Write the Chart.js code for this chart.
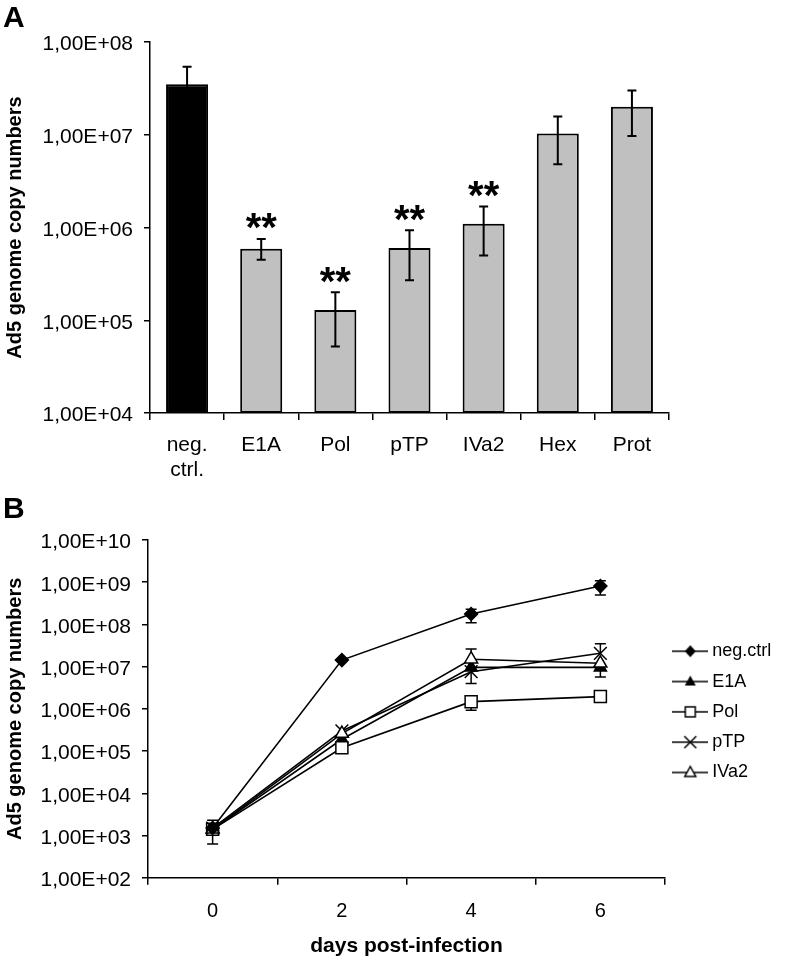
<!DOCTYPE html>
<html><head><meta charset="utf-8">
<script src="https://cdn.jsdelivr.net/npm/chart.js@4.4.1/dist/chart.umd.min.js"></script>
<style>
html,body{margin:0;padding:0;background:#fff;}
body{width:786px;height:962px;position:relative;overflow:hidden;}
canvas{position:absolute;left:0;}
#cA{top:0;}
#cB{top:480px;}
</style></head><body>
<canvas id="cA" width="786" height="490"></canvas>
<canvas id="cB" width="786" height="482"></canvas>
<script>
// ---------- Panel A data ----------
const categoriesA = [['neg.', 'ctrl.'], 'E1A', 'Pol', 'pTP', 'IVa2', 'Hex', 'Prot'];
const copiesA   = [3.5e7, 5.9e5, 1.29e5, 6.0e5, 1.1e6, 1.03e7, 2.0e7];
const errHighA  = [5.4e7, 7.5e5, 2.0e5, 9.35e5, 1.68e6, 1.57e7, 3.0e7];
const errLowA   = [1.6e7, 4.5e5, 5.2e4, 2.7e5, 5.0e5, 4.8e6, 9.7e6];
const signifA   = ['', '**', '**', '**', '**', '', ''];
const barColorsA = ['#000000', '#c0c0c0', '#c0c0c0', '#c0c0c0', '#c0c0c0', '#c0c0c0', '#c0c0c0'];
const yTickValuesA = [1e4, 1e5, 1e6, 1e7, 1e8];
const yTickLabelsA = ['1,00E+04', '1,00E+05', '1,00E+06', '1,00E+07', '1,00E+08'];

// ---------- Panel B data ----------
const daysB = ['0', '2', '4', '6'];
const seriesNamesB = ['neg.ctrl', 'E1A', 'Pol', 'pTP', 'IVa2'];
const negCtrlB = [1.5e3, 1.43e7, 1.76e8, 8.1e8];
const e1aB     = [1.4e3, 1.9e5, 9.6e6, 9.6e6];
const polB     = [1.4e3, 1.2e5, 1.48e6, 1.95e6];
const ptpB     = [1.5e3, 3.0e5, 7.6e6, 2.07e7];
const iva2B    = [1.4e3, 2.6e5, 1.5e7, 1.2e7];
const negCtrlErrHiB = [null, null, 2.3e8, 1.08e9];
const negCtrlErrLoB = [null, null, 1.1e8, 5.0e8];
const e1aErrHiB  = [null, null, null, null];
const e1aErrLoB  = [null, null, null, 5.7e6];
const polErrHiB  = [null, null, null, null];
const polErrLoB  = [null, null, 9.3e5, null];
const ptpErrHiB  = [null, null, null, 3.5e7];
const ptpErrLoB  = [null, null, 4.0e6, null];
const iva2ErrHiB = [2.3e3, null, 2.6e7, null];
const iva2ErrLoB = [6.3e2, null, null, null];
const yTickValuesB = [1e2, 1e3, 1e4, 1e5, 1e6, 1e7, 1e8, 1e9, 1e10];
const yTickLabelsB = ['1,00E+02', '1,00E+03', '1,00E+04', '1,00E+05', '1,00E+06', '1,00E+07', '1,00E+08', '1,00E+09', '1,00E+10'];

Chart.defaults.font.family = "'Liberation Sans', Arial, sans-serif";
Chart.defaults.color = '#000';

const AXIS = '#000';

// ---------- Panel A ----------
const errorBarsA = {
  id: 'errorBarsA',
  afterDatasetsDraw(chart) {
    const ctx = chart.ctx;
    const meta = chart.getDatasetMeta(0);
    const ys = chart.scales.y;
    ctx.save();
    ctx.strokeStyle = '#000';
    ctx.lineWidth = 2;
    meta.data.forEach((bar, i) => {
      const x = bar.x;
      const yh = ys.getPixelForValue(errHighA[i]);
      const yl = ys.getPixelForValue(errLowA[i]);
      ctx.beginPath();
      ctx.moveTo(x, yh); ctx.lineTo(x, yl);
      ctx.moveTo(x - 4.5, yh); ctx.lineTo(x + 4.5, yh);
      ctx.moveTo(x - 4.5, yl); ctx.lineTo(x + 4.5, yl);
      ctx.stroke();
      if (signifA[i]) {
        ctx.fillStyle = '#000';
        ctx.font = "bold 40px 'Liberation Sans', Arial, sans-serif";
        ctx.textAlign = 'center';
        ctx.textBaseline = 'alphabetic';
        ctx.fillText(signifA[i], x, yh - 21 + 0.585 * 40);
      }
    });
    ctx.restore();
  }
};

new Chart(document.getElementById('cA'), {
  type: 'bar',
  data: {
    labels: categoriesA,
    datasets: [{
      data: copiesA,
      backgroundColor: barColorsA,
      borderColor: '#000',
      borderWidth: 2,
      borderSkipped: false,
      barPercentage: 0.567,
      categoryPercentage: 1.0
    }]
  },
  options: {
    responsive: false,
    animation: false,
    devicePixelRatio: 1,
    layout: { padding: { left: 3, right: 117, top: 0, bottom: 0 } },
    plugins: {
      legend: { display: false },
      tooltip: { enabled: false },
      title: {
        display: true, text: 'A', align: 'start', color: '#000',
        font: { size: 30, weight: 'bold' },
        padding: { top: 0.6, bottom: 5.4 }
      }
    },
    scales: {
      x: {
        type: 'category',
        offset: true,
        grid: { display: true, drawOnChartArea: false, offset: true, drawTicks: true, tickLength: 7, color: AXIS, lineWidth: 1.5 },
        border: { display: true, color: AXIS, width: 1.5 },
        ticks: { font: { size: 21 }, color: '#000', padding: 12.8, maxRotation: 0, autoSkip: false },
        afterFit: (s) => { s.height = 77; }
      },
      y: {
        type: 'logarithmic',
        min: 1e4, max: 1e8,
        grid: { display: true, drawOnChartArea: false, drawTicks: true, tickLength: 6, color: AXIS, lineWidth: 1.5 },
        border: { display: true, color: AXIS, width: 1.5 },
        ticks: {
          font: { size: 21 }, color: '#000', padding: 11, labelOffset: 2.5,
          callback: (v) => { const k = yTickValuesA.indexOf(v); return k >= 0 ? yTickLabelsA[k] : ''; }
        },
        afterBuildTicks: (s) => { s.ticks = yTickValuesA.map(v => ({ value: v })); },
        title: {
          display: true, text: 'Ad5 genome copy numbers', color: '#000',
          font: { size: 20, weight: 'bold' }, padding: { top: 0, bottom: 0 }
        },
        afterFit: (s) => { s.width = 147; }
      }
    }
  },
  plugins: [errorBarsA]
});

// ---------- Panel B ----------
const valuesB = [negCtrlB, e1aB, polB, ptpB, iva2B];
const errHiB = [negCtrlErrHiB, e1aErrHiB, polErrHiB, ptpErrHiB, iva2ErrHiB];
const errLoB = [negCtrlErrLoB, e1aErrLoB, polErrLoB, ptpErrLoB, iva2ErrLoB];
const pointStylesB = ['rectRot', 'triangle', 'rect', 'crossRot', 'triangle'];
const pointRadiusB = [6.5, 7, 8.5, 9, 7.5];
const pointFillB = ['#000', '#000', '#fff', '#000', '#fff'];
const drawOrderB = [0, 4, 3, 2, 1];

function legendIcon(i) {
  const c = document.createElement('canvas');
  c.width = 36; c.height = 18;
  const g = c.getContext('2d');
  g.strokeStyle = '#000'; g.fillStyle = '#000'; g.lineWidth = 1.5;
  g.beginPath(); g.moveTo(0, 9); g.lineTo(36, 9); g.stroke();
  const cx = 18, cy = 9;
  g.beginPath();
  if (i === 0) {
    g.moveTo(cx, cy - 6); g.lineTo(cx + 5.5, cy); g.lineTo(cx, cy + 6); g.lineTo(cx - 5.5, cy); g.closePath(); g.fill();
  } else if (i === 1) {
    g.moveTo(cx, cy - 6); g.lineTo(cx + 5.5, cy + 4); g.lineTo(cx - 5.5, cy + 4); g.closePath(); g.fill();
  } else if (i === 2) {
    g.fillStyle = '#fff'; g.rect(cx - 5, cy - 5, 10, 10); g.fill(); g.stroke();
  } else if (i === 3) {
    g.moveTo(cx - 6, cy - 6); g.lineTo(cx + 6, cy + 6); g.moveTo(cx + 6, cy - 6); g.lineTo(cx - 6, cy + 6); g.stroke();
  } else {
    g.fillStyle = '#fff'; g.moveTo(cx, cy - 6); g.lineTo(cx + 5.5, cy + 4); g.lineTo(cx - 5.5, cy + 4); g.closePath(); g.fill(); g.stroke();
  }
  return c;
}
const legendIconsB = seriesNamesB.map((n, i) => legendIcon(i));

const errorBarsB = {
  id: 'errorBarsB',
  beforeDatasetsDraw(chart) {
    const ctx = chart.ctx;
    const ys = chart.scales.y;
    ctx.save();
    ctx.strokeStyle = '#000';
    ctx.lineWidth = 1.5;
    valuesB.forEach((vals, d) => {
      const meta = chart.getDatasetMeta(d);
      meta.data.forEach((pt, i) => {
        const x = pt.x, y = pt.y;
        const hi = errHiB[d][i], lo = errLoB[d][i];
        ctx.beginPath();
        if (hi != null) {
          const yh = ys.getPixelForValue(hi);
          ctx.moveTo(x, y); ctx.lineTo(x, yh);
          ctx.moveTo(x - 5.5, yh); ctx.lineTo(x + 5.5, yh);
        }
        if (lo != null) {
          const yl = ys.getPixelForValue(lo);
          ctx.moveTo(x, y); ctx.lineTo(x, yl);
          ctx.moveTo(x - 5.5, yl); ctx.lineTo(x + 5.5, yl);
        }
        ctx.stroke();
      });
    });
    ctx.restore();
  }
};

// keep the legend column at a fixed width so the plot ends at the same place
const fixedLegendWidth = {
  id: 'fixedLegendWidth',
  beforeLayout(chart) {
    const lg = chart.legend;
    if (lg && !lg._fixedW) {
      const orig = lg.fit.bind(lg);
      lg.fit = function () { orig(); this.width = 121; };
      lg._fixedW = true;
    }
  }
};

new Chart(document.getElementById('cB'), {
  type: 'line',
  data: {
    labels: daysB,
    datasets: valuesB.map((vals, d) => ({
      label: seriesNamesB[d],
      data: vals,
      order: drawOrderB[d],
      borderColor: '#000',
      borderWidth: 1.6,
      tension: 0,
      fill: false,
      pointStyle: pointStylesB[d],
      pointRadius: pointRadiusB[d],
      pointBackgroundColor: pointFillB[d],
      pointBorderColor: '#000',
      pointBorderWidth: 1.5
    }))
  },
  options: {
    responsive: false,
    animation: false,
    devicePixelRatio: 1,
    layout: { padding: { left: 3, right: 0, top: 0, bottom: 0 } },
    plugins: {
      tooltip: { enabled: false },
      title: {
        display: true, text: 'B', align: 'start', color: '#000',
        font: { size: 30, weight: 'bold' },
        padding: { top: 11.6, bottom: 12.4 }
      },
      legend: {
        display: true, position: 'right', fullSize: false, align: 'center',
        title: { display: true, text: '', font: { size: 5, lineHeight: 1.2 }, padding: 0 },
        labels: {
          font: { size: 18 }, color: '#000', padding: 12.3,
          usePointStyle: true, pointStyleWidth: 26,
          generateLabels: (chart) => seriesNamesB.map((n, i) => ({
            text: n, pointStyle: legendIconsB[i], datasetIndex: i,
            fillStyle: '#000', strokeStyle: '#000', lineWidth: 0, hidden: false, fontColor: '#000'
          }))
        }
      }
    },
    scales: {
      x: {
        type: 'category',
        offset: true,
        grid: { display: true, drawOnChartArea: false, offset: true, drawTicks: true, tickLength: 7, color: AXIS, lineWidth: 1.5 },
        border: { display: true, color: AXIS, width: 1.5 },
        ticks: { font: { size: 20 }, color: '#000', padding: 14.4, maxRotation: 0 },
        title: {
          display: true, text: 'days post-infection', color: '#000',
          font: { size: 21, weight: 'bold' }, padding: { top: 0, bottom: 2.7 }
        },
        afterFit: (s) => { s.height = 84.3; }
      },
      y: {
        type: 'logarithmic',
        min: 1e2, max: 1e10,
        grid: { display: true, drawOnChartArea: false, drawTicks: true, tickLength: 6, color: AXIS, lineWidth: 1.5 },
        border: { display: true, color: AXIS, width: 1.5 },
        ticks: {
          font: { size: 21 }, color: '#000', padding: 11, labelOffset: 2.5,
          callback: (v) => { const k = yTickValuesB.indexOf(v); return k >= 0 ? yTickLabelsB[k] : ''; }
        },
        afterBuildTicks: (s) => { s.ticks = yTickValuesB.map(v => ({ value: v })); },
        title: {
          display: true, text: 'Ad5 genome copy numbers', color: '#000',
          font: { size: 20, weight: 'bold' }, padding: { top: 0, bottom: 0 }
        },
        afterFit: (s) => { s.width = 145; }
      }
    }
  },
  plugins: [errorBarsB, fixedLegendWidth]
});
</script>
</body></html>
